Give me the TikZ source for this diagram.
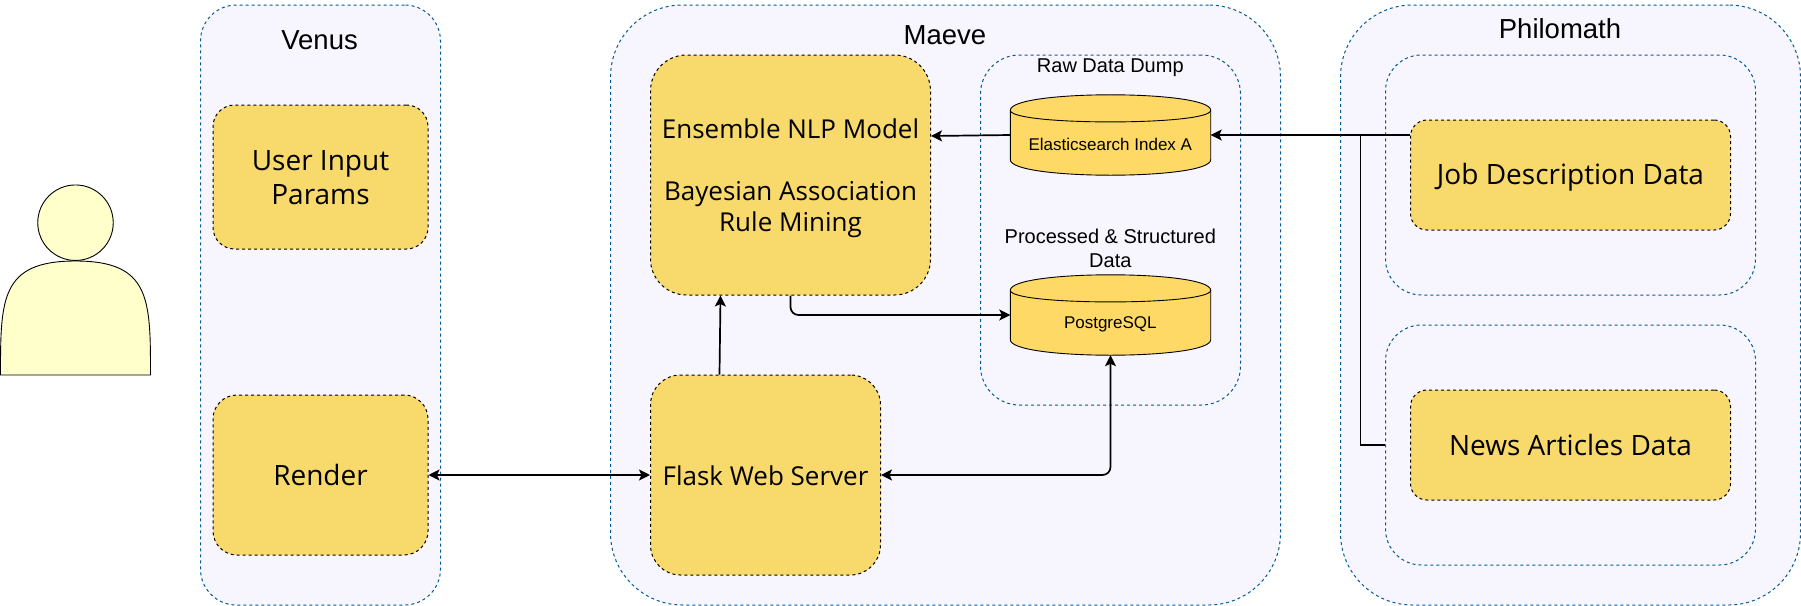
\documentclass[tikz,border=0pt]{standalone}
\usepackage{fontspec}
\setmainfont{Liberation Sans}
\newfontfamily\boxfont{Open Sans}
\usetikzlibrary{arrows.meta}
\definecolor{lav}{HTML}{F7F6FE}
\definecolor{edgeblue}{HTML}{005A96}
\definecolor{boxyellow}{HTML}{F8D96C}
\definecolor{cylyellow}{HTML}{FFD966}
\definecolor{skin}{HTML}{FFFFCC}
\newcommand\tstr{\rule{0pt}{26pt}}
\newcommand\bstr{\rule[-6pt]{0pt}{6pt}}
\tikzset{
 x=1pt,y=-1pt,
 group/.style={shape=rectangle,draw=edgeblue,fill=lav,line width=1pt,dash pattern=on 3pt off 3pt,inner sep=0pt,rounded corners=#1},
 yellowbox/.style={shape=rectangle,draw=black,fill=boxyellow,line width=1pt,dash pattern=on 3pt off 3pt,inner sep=0pt,align=center,rounded corners=#1,
   font=\boxfont\fontsize{28}{34}\selectfont},
 maevebox/.style={yellowbox=#1,font=\boxfont\fontsize{26}{31}\selectfont},
 dbspace/.style={shape=rectangle,minimum width=200pt,minimum height=80pt,inner sep=0pt},
 dbline/.style={draw=black,fill=cylyellow,line width=0.9pt},
 title/.style={font=\fontsize{27.5}{33}\selectfont,inner sep=0pt},
 small/.style={font=\fontsize{20}{24}\selectfont,inner sep=0pt,align=center},
 dblabel/.style={font=\fontsize{17}{20}\selectfont,inner sep=0pt},
 link/.style={draw=black,line width=1.7pt,rounded corners=8pt},
 tip/.style={-{Stealth[length=11pt,width=11pt,inset=2.5pt]}},
 twotip/.style={{Stealth[length=11pt,width=11pt,inset=2.5pt]}-{Stealth[length=11pt,width=11pt,inset=2.5pt]}},
}
\newcommand\dbbody[1]{%
 \coordinate (#1a) at ([yshift=-15.5pt]#1.north west);
 \coordinate (#1b) at ([yshift=-15.5pt]#1.north east);
 \coordinate (#1c) at ([yshift=15.5pt]#1.south east);
 \coordinate (#1d) at ([yshift=15.5pt]#1.south west);
 \path[dbline] (#1a) .. controls +(0,-20.67) and +(0,-20.67) .. (#1b) -- (#1c) .. controls +(0,20.67) and +(0,20.67) .. (#1d) -- cycle;
 \path[draw=black,line width=0.9pt] (#1a) .. controls +(0,15.5) and +(0,15.5) .. (#1b);
}
\begin{document}
\begin{tikzpicture}
\useasboundingbox (0,0) rectangle (1801,605);
% user
\path[draw=black,fill=skin,line width=0.9pt] (0.5,375) .. controls (0.5,299) and (0.5,261) .. (75.5,261) .. controls (150.5,261) and (150.5,299) .. (150.5,375) -- cycle;
\node[shape=circle,draw=black,fill=skin,line width=0.9pt,minimum size=75.5pt,inner sep=0pt] (head) at (75.5,222.7) {};
% groups
\node[group=36pt,minimum width=240pt,minimum height=600pt] (venus) at (320.5,305) {};
\node[group=72pt,minimum width=670pt,minimum height=600pt] (maeve) at (945.5,305) {};
\node[group=39pt,minimum width=260pt,minimum height=350pt] (stores) at (1110.5,230) {};
\node[group=72pt,minimum width=460pt,minimum height=600pt] (philo) at (1570.5,305) {};
\node[group=36pt,minimum width=370pt,minimum height=240pt] (inA) at (1570.5,175) {};
\node[group=36pt,minimum width=370pt,minimum height=240pt] (inB) at (1570.5,445) {};
% titles
\node[title] (tv) at (319.6,40.5) {Venus};
\node[title] (tm) at (945,34.7) {Maeve};
\node[title] (tp) at (1560,29) {Philomath};
\node[small] (traw) at (1110.3,68) {Raw Data Dump};
\node[small] (tproc) at (1110.3,248) {Processed \& Structured\\Data};
% yellow boxes
\node[yellowbox=21.6pt,minimum width=215pt,minimum height=144pt] (input) at (320.5,177) {\tstr User Input\\Params\bstr};
\node[yellowbox=24pt,minimum width=215pt,minimum height=160pt] (render) at (320.5,475) {\tstr Render\bstr};
\node[maevebox=36pt,minimum width=280pt,minimum height=240pt] (ens) at (790.5,175) {\tstr Ensemble NLP Model\\[31pt]Bayesian Association\\Rule Mining\bstr};
\node[maevebox=30pt,minimum width=230pt,minimum height=200pt] (flask) at (765.5,475) {\tstr Flask Web Server\bstr};
\node[yellowbox=16.5pt,minimum width=320pt,minimum height=110pt] (job) at (1570.5,175) {\tstr Job Description Data\bstr};
\node[yellowbox=16.5pt,minimum width=320pt,minimum height=110pt] (news) at (1570.5,445) {\tstr News Articles Data\bstr};
% cylinders
\node[dbspace] (es) at (1110.5,135) {};
\node[dbspace] (pg) at (1110.5,315) {};
\dbbody{es}
\dbbody{pg}
\node[dblabel] (esl) at (1110.3,144.3) {Elasticsearch Index A};
\node[dblabel] (pgl) at (1110.3,324) {PostgreSQL};
% connectors
\coordinate (jn) at (1360.5,135);
\draw[link,tip] (es.west) -- ([yshift=39pt]ens.east);
\draw[link,tip] (ens.south) |- (pg.west);
\draw[link,tip] ([xshift=-46pt]flask.north) -- ([xshift=-70pt]ens.south);
\draw[link,twotip] (flask.east) -| (pg.south);
\draw[link,twotip] (render.east) -- (flask.west);
\draw[link,tip] ([yshift=40pt]job.west) -- (es.east);
\draw[draw=black,line width=1.7pt] (inB.west) -| (jn);
\end{tikzpicture}
\end{document}
